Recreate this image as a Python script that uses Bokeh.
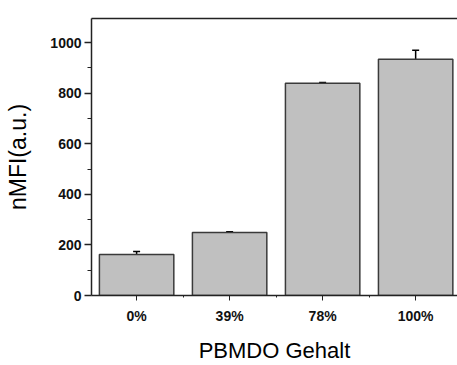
from bokeh.plotting import figure
from bokeh.models import (ColumnDataSource, Range1d, FixedTicker, Whisker, TeeHead,
                          LinearAxis)
from bokeh.embed import file_html
from bokeh.resources import INLINE

categories = ["0%", "39%", "78%", "100%"]
positions = [1, 2, 3, 4]
values = [162, 249, 839, 934]
errors = [12, 3, 3, 35]
y_ticks = [0, 200, 400, 600, 800, 1000]
y_minor = [100, 300, 500, 700, 900]

src = ColumnDataSource(dict(
    x=positions, top=values,
    upper=[v + e for v, e in zip(values, errors)],
    lower=[v - e for v, e in zip(values, errors)],
))

p = figure(width=457, height=365, output_backend="svg", toolbar_location=None,
           x_range=Range1d(0.515, 4.45), y_range=Range1d(0, 1095),
           min_border_left=91, min_border_right=0, min_border_top=18,
           min_border_bottom=70)
p.outline_line_color = None
p.background_fill_color = "white"
p.border_fill_color = "white"
p.grid.visible = False

p.vbar(x="x", top="top", width=0.8, source=src, fill_color="#c0c0c0",
       line_color="#3a3a3a", line_width=1.5)

w = Whisker(base="x", upper="upper", lower="lower", source=src,
            line_color="black", line_width=1.5,
            upper_head=TeeHead(size=7, line_color="black", line_width=1.5),
            lower_head=TeeHead(size=7, line_color="black", line_width=1.5))
p.add_layout(w)

# y axis
ya = p.yaxis[0]
ya.ticker = FixedTicker(ticks=y_ticks, minor_ticks=y_minor)
ya.axis_label = "nMFI(a.u.)"
ya.axis_label_text_font = "Liberation Sans"
ya.axis_label_text_font_style = "normal"
ya.axis_label_text_font_size = "23px"
ya.axis_label_text_color = "black"
ya.axis_label_standoff = 16
ya.major_label_text_font = "Liberation Sans"
ya.major_label_text_font_style = "bold"
ya.major_label_text_font_size = "14px"
ya.major_label_text_color = "#111111"
ya.major_tick_in = 0
ya.major_tick_out = 7
ya.minor_tick_in = 0
ya.minor_tick_out = 4
ya.axis_line_color = "#222222"
ya.axis_line_width = 1.5
ya.major_tick_line_width = 1.5
ya.major_tick_line_color = "#222222"
ya.minor_tick_line_color = "#222222"
ya.major_label_standoff = 3

# x axis
xa = p.xaxis[0]
xa.ticker = FixedTicker(ticks=positions, minor_ticks=[1.5, 2.5, 3.5])
xa.major_label_overrides = {pos: c for pos, c in zip(positions, categories)}
xa.axis_label = "PBMDO Gehalt"
xa.axis_label_text_font = "Liberation Sans"
xa.axis_label_text_font_style = "normal"
xa.axis_label_text_font_size = "22px"
xa.axis_label_text_color = "black"
xa.axis_label_standoff = 11
xa.major_label_text_font = "Liberation Sans"
xa.major_label_text_font_style = "bold"
xa.major_label_text_font_size = "14px"
xa.major_label_text_color = "#111111"
xa.major_tick_in = 0
xa.major_tick_out = 5
xa.minor_tick_in = 0
xa.minor_tick_out = 2
xa.axis_line_color = "#222222"
xa.axis_line_width = 1.5
xa.major_tick_line_color = "#222222"
xa.minor_tick_line_color = "#222222"
xa.major_label_standoff = 7

top = LinearAxis(ticker=FixedTicker(ticks=[]), major_tick_in=0, major_tick_out=0,
                 minor_tick_in=0, minor_tick_out=0, axis_line_color="#222222",
                 axis_line_width=1.5, major_label_standoff=0)
p.add_layout(top, "above")

open("out.html", "w").write(file_html(p, INLINE))
